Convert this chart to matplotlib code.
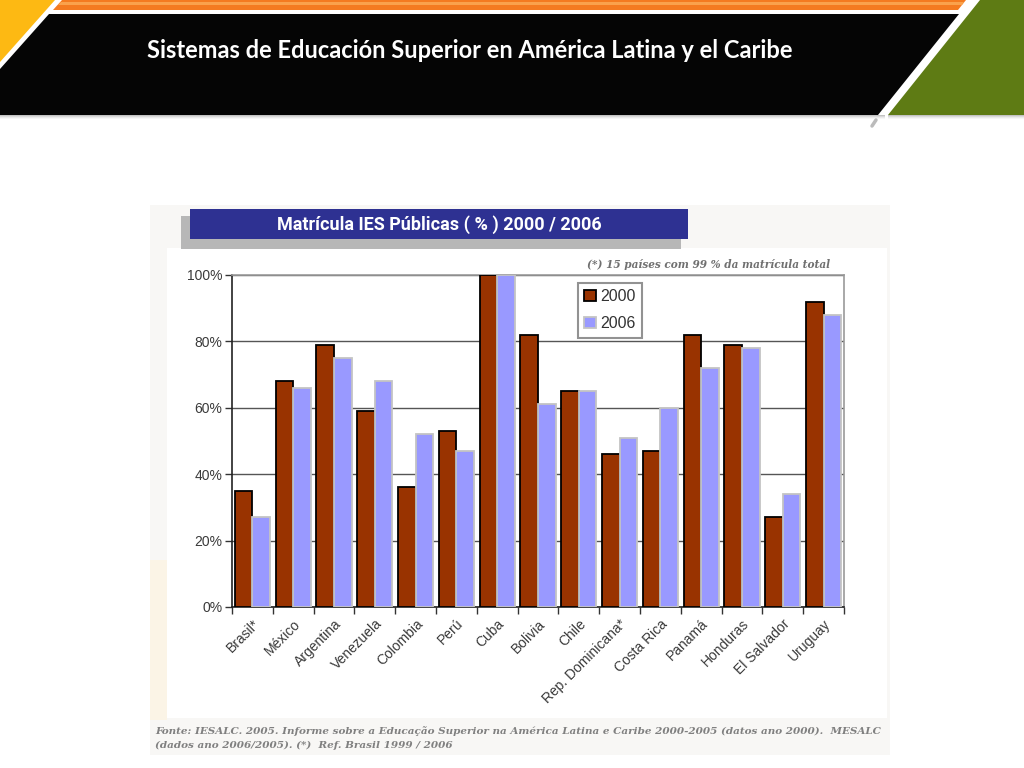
import matplotlib
matplotlib.use('Agg')
import matplotlib.pyplot as plt
from matplotlib.patches import Polygon, Rectangle
import numpy as np

# ---------------- data ----------------
countries = ["Brasil*", "México", "Argentina", "Venezuela", "Colombia", "Perú",
             "Cuba", "Bolivia", "Chile", "Rep. Dominicana*", "Costa Rica",
             "Panamá", "Honduras", "El Salvador", "Uruguay"]
v2000 = [35, 68, 79, 59, 36, 53, 100, 82, 65, 46, 47, 82, 79, 27, 92]
v2006 = [27, 66, 75, 68, 52, 47, 100, 61, 65, 51, 60, 72, 78, 34, 88]
series_labels = ["2000", "2006"]
yticks = [0, 20, 40, 60, 80, 100]
ytick_labels = ["0%", "20%", "40%", "60%", "80%", "100%"]

slide_title = "Sistemas de Educación Superior en América Latina y el Caribe"
chart_title = "Matrícula IES Públicas ( % ) 2000 / 2006"
note_text = "(*) 15 países com 99 % da matrícula total"
source_line1 = ("Fonte: IESALC. 2005. Informe sobre a Educação Superior na América Latina "
                "e Caribe 2000-2005 (datos ano 2000).  MESALC")
source_line2 = "(dados ano 2006/2005). (*)  Ref. Brasil 1999 / 2006"

W, H = 1024, 768
fig = plt.figure(figsize=(W / 100, H / 100), dpi=100)
fig.patch.set_facecolor('white')

bg = fig.add_axes([0, 0, 1, 1])
bg.set_xlim(0, W)
bg.set_ylim(H, 0)
bg.axis('off')

# ---------------- slide header ----------------
bg.add_patch(Polygon([(0, 0), (55, 0), (0, 62)], closed=True, color='#FDB913', lw=0))
bg.add_patch(Polygon([(62, 0), (966, 0), (958, 10), (53, 10)], closed=True,
                     color='#F47B20', lw=0))
bg.add_patch(Polygon([(61, 2), (964, 2), (962, 5), (58, 5)], closed=True,
                     color='#FAA24C', lw=0))
# shadow below black band
for i, a in enumerate([0.35, 0.22, 0.12, 0.05]):
    bg.add_patch(Rectangle((0, 115 + i), 885, 1, color='#555555', alpha=a, lw=0))
bg.add_patch(Polygon([(49, 14), (959, 14), (878, 115), (0, 115), (0, 69)],
                     closed=True, color='#050505', lw=0))
for i, a in enumerate([0.35, 0.22, 0.12, 0.05]):
    bg.add_patch(Rectangle((888, 115 + i), 136, 1, color='#555555', alpha=a, lw=0))
bg.add_patch(Polygon([(980, 0), (1024, 0), (1024, 115), (888, 115)],
                     closed=True, color='#5E7B14', lw=0))
bg.plot([876, 872], [120, 126], color='#BBBBBB', lw=2.5, solid_capstyle='round')

t_title = bg.text(470, 50, slide_title, color='white', fontsize=15, fontweight='bold',
                  family=['Lato', 'DejaVu Sans'], ha='center', va='center')

# ---------------- chart image background ----------------
bg.add_patch(Rectangle((150, 205), 740, 550, color='#F8F7F5', lw=0))
bg.add_patch(Rectangle((150, 560), 17, 160, color='#FBF4E6', lw=0))
bg.add_patch(Rectangle((167, 248), 720, 470, color='white', lw=0))

# chart title box
bg.add_patch(Rectangle((181, 216), 500, 33, color='#B7B7B7', lw=0))
bg.add_patch(Rectangle((190, 209), 498, 30, color='#2E3192', lw=0))
t_ctitle = bg.text(439, 224.5, chart_title, color='white', fontsize=12, fontweight='bold',
                   family=['Roboto', 'DejaVu Sans'],
                   ha='center', va='center')

t_note = bg.text(830, 265, note_text, color='#707070', fontsize=8, style='italic',
                 fontweight='bold', family=['DejaVu Serif'], ha='right', va='center')

t_src1 = bg.text(155, 731, source_line1, color='#808080', fontsize=9, style='italic',
                 fontweight='bold', family=['DejaVu Serif'], ha='left', va='center')
t_src2 = bg.text(155, 745, source_line2, color='#808080', fontsize=9, style='italic',
                 fontweight='bold', family=['DejaVu Serif'], ha='left', va='center')

# ---------------- bar chart ----------------
x0, x1, y0, y1 = 232, 844, 275, 607
ax = fig.add_axes([x0 / W, (H - y1) / H, (x1 - x0) / W, (y1 - y0) / H])
ax.set_facecolor('white')
n = len(countries)
x = np.arange(n)
bw = 0.43
ax.bar(x - bw / 2, v2000, bw, color='#993300', edgecolor='black', linewidth=1.3,
       label=series_labels[0], zorder=3)
ax.bar(x + bw / 2, v2006, bw, color='#9999FF', edgecolor='#C4C4C4', linewidth=1.3,
       label=series_labels[1], zorder=3)

ax.set_xlim(-0.5, n - 0.5)
ax.set_ylim(0, 100)
ax.set_yticks(yticks)
ax.set_yticklabels(ytick_labels, family=['Liberation Sans', 'DejaVu Sans'],
                   fontsize=10, color='#3A3A3A')
ax.yaxis.grid(True, color='#555555', linewidth=1, zorder=0)
ax.set_axisbelow(True)
ax.tick_params(axis='y', length=5, width=1, color='#333333', pad=2)

ax.set_xticks(x)
ax.set_xticklabels(countries, rotation=45, ha='right', va='top', rotation_mode='anchor',
                   family=['Liberation Sans', 'DejaVu Sans'], fontsize=10, color='#3A3A3A')
ax.tick_params(axis='x', which='major', length=0, pad=7)
ax.set_xticks(np.arange(-0.5, n, 1), minor=True)
ax.tick_params(axis='x', which='minor', length=5, width=1, color='#333333')

for s in ['top', 'right']:
    ax.spines[s].set_color('#9A9A9A')
    ax.spines[s].set_linewidth(1.2)
ax.spines['left'].set_color('#222222')
ax.spines['bottom'].set_color('#222222')
ax.spines['left'].set_linewidth(1.2)
ax.spines['bottom'].set_linewidth(1.2)

leg = ax.legend(loc='upper left', bbox_to_anchor=((578 - x0) / (x1 - x0), 1 - (283 - y0) / (y1 - y0)),
                frameon=True, fancybox=False, handlelength=0.7, handleheight=0.7,
                handletextpad=0.3, borderpad=0.4, labelspacing=0.75, borderaxespad=0,
                prop={'family': ['Liberation Sans', 'DejaVu Sans'], 'size': 11.5})
leg.get_frame().set_edgecolor('#777777')
leg.get_frame().set_linewidth(1.5)
for txt in leg.get_texts():
    txt.set_color('#333333')

# ---------------- fit text widths ----------------
fig.canvas.draw()
r = fig.canvas.get_renderer()

def fit(t, width_px):
    bb = t.get_window_extent(r)
    t.set_fontsize(t.get_fontsize() * width_px / bb.width)

fit(t_title, 646)
fit(t_ctitle, 323)
fit(t_note, 245)
fit(t_src1, 730)
t_src2.set_fontsize(t_src1.get_fontsize())

fig.savefig('out.png', dpi=100, facecolor='white')
